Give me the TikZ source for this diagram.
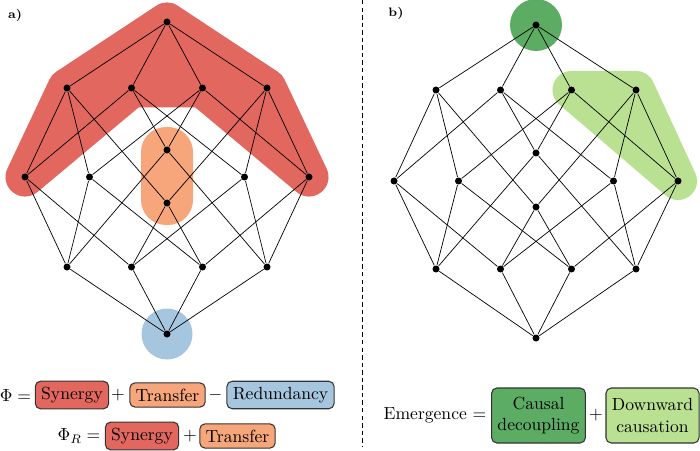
\documentclass[tikz,border=0pt]{standalone}
\usepackage{amsmath}
\usetikzlibrary{calc,backgrounds}
\definecolor{syn_red}{RGB}{226, 103, 94}
\definecolor{trans_orange}{RGB}{246, 166, 122}
\definecolor{red_blue}{RGB}{166, 198, 224}
\definecolor{cd_green}{RGB}{92, 172, 100}
\definecolor{dc_green}{RGB}{186, 225, 146}
\tikzstyle{dot}=[circle,fill=black,draw=none,inner sep=0pt,minimum size=0.14cm]
\tikzstyle{synbox}=[rectangle,rounded corners=3pt,fill=syn_red,draw=black!80,line width=0.6pt]
\tikzstyle{transbox}=[rectangle,rounded corners=3pt,fill=trans_orange,draw=black!80,line width=0.6pt]
\tikzstyle{redbox}=[rectangle,rounded corners=3pt,fill=red_blue,draw=black!80,line width=0.6pt]
\tikzstyle{cdbox}=[rectangle,rounded corners=3pt,fill=cd_green,draw=black!80,line width=0.6pt,
  align=center,minimum height=1.1cm]
\tikzstyle{dcbox}=[rectangle,rounded corners=3pt,fill=dc_green,draw=black!80,line width=0.6pt,
  align=center,minimum height=1.1cm]
\tikzstyle{tag}=[font=\scriptsize\bfseries]
\tikzstyle{none}=[]

\begin{document}
\begin{tikzpicture}[line width=0.6pt]
    \useasboundingbox (0, 0) rectangle (14, 9);
    % left lattice
    \node [style=dot] (0) at (3.34, 8.56) {};
    \node [style=dot] (1) at (1.34, 7.24) {};
    \node [style=dot] (2) at (2.63, 7.24) {};
    \node [style=dot] (3) at (4.05, 7.24) {};
    \node [style=dot] (4) at (5.34, 7.24) {};
    \node [style=dot] (5) at (0.50, 5.46) {};
    \node [style=dot] (6) at (1.79, 5.46) {};
    \node [style=dot] (7) at (3.34, 6.00) {};
    \node [style=dot] (8) at (3.34, 4.94) {};
    \node [style=dot] (9) at (4.89, 5.46) {};
    \node [style=dot] (10) at (6.18, 5.46) {};
    \node [style=dot] (11) at (1.34, 3.66) {};
    \node [style=dot] (12) at (2.63, 3.66) {};
    \node [style=dot] (13) at (4.05, 3.66) {};
    \node [style=dot] (14) at (5.34, 3.66) {};
    \node [style=dot] (15) at (3.34, 2.32) {};
    % right lattice
    \node [style=dot] (16) at (10.72, 8.50) {};
    \node [style=dot] (17) at (8.72, 7.20) {};
    \node [style=dot] (18) at (10.01, 7.20) {};
    \node [style=dot] (19) at (11.43, 7.20) {};
    \node [style=dot] (20) at (12.72, 7.20) {};
    \node [style=dot] (21) at (7.88, 5.38) {};
    \node [style=dot] (22) at (9.17, 5.38) {};
    \node [style=dot] (23) at (10.72, 5.94) {};
    \node [style=dot] (24) at (10.72, 4.86) {};
    \node [style=dot] (25) at (12.27, 5.38) {};
    \node [style=dot] (26) at (13.56, 5.38) {};
    \node [style=dot] (27) at (8.72, 3.62) {};
    \node [style=dot] (28) at (10.01, 3.62) {};
    \node [style=dot] (29) at (11.43, 3.62) {};
    \node [style=dot] (30) at (12.72, 3.62) {};
    \node [style=dot] (31) at (10.72, 2.24) {};

    \begin{pgfonlayer}{background}
        \filldraw [fill=syn_red, draw=syn_red, line width=0.78cm, line join=round] (5.center) -- (1.center) -- (0.center) -- (4.center) -- (10.center) -- (3.center) -- (2.center) -- cycle;
        \fill [trans_orange, rounded corners=0.5cm] ($(7)+(-0.52,0.46)$) rectangle ($(8)+(0.52,-0.44)$);
        \fill [red_blue] (15.center) circle (0.51cm);
        \fill [cd_green] (16.center) circle (0.52cm);
        \filldraw [fill=dc_green, draw=dc_green, line width=0.76cm, line join=round] (19.center) -- (20.center) -- (26.center) -- cycle;
    \end{pgfonlayer}

    \draw (0) to (1);
    \draw (0) to (2);
    \draw (0) to (3);
    \draw (0) to (4);
    \draw (1) to (5);
    \draw (1) to (6);
    \draw (1) to (8);
    \draw (2) to (5);
    \draw (2) to (7);
    \draw (2) to (9);
    \draw (3) to (10);
    \draw (3) to (7);
    \draw (3) to (6);
    \draw (4) to (10);
    \draw (4) to (9);
    \draw (4) to (8);
    \draw (5) to (11);
    \draw (5) to (12);
    \draw (6) to (11);
    \draw (6) to (13);
    \draw (7) to (11);
    \draw (7) to (14);
    \draw (8) to (12);
    \draw (8) to (13);
    \draw (9) to (12);
    \draw (9) to (14);
    \draw (10) to (13);
    \draw (10) to (14);
    \draw (11) to (15);
    \draw (12) to (15);
    \draw (13) to (15);
    \draw (14) to (15);

    \draw (16) to (17);
    \draw (16) to (18);
    \draw (16) to (19);
    \draw (16) to (20);
    \draw (17) to (21);
    \draw (17) to (22);
    \draw (17) to (24);
    \draw (18) to (21);
    \draw (18) to (23);
    \draw (18) to (25);
    \draw (19) to (26);
    \draw (19) to (23);
    \draw (19) to (22);
    \draw (20) to (26);
    \draw (20) to (25);
    \draw (20) to (24);
    \draw (21) to (27);
    \draw (21) to (28);
    \draw (22) to (27);
    \draw (22) to (29);
    \draw (23) to (27);
    \draw (23) to (30);
    \draw (24) to (28);
    \draw (24) to (29);
    \draw (25) to (28);
    \draw (25) to (30);
    \draw (26) to (29);
    \draw (26) to (30);
    \draw (27) to (31);
    \draw (28) to (31);
    \draw (29) to (31);
    \draw (30) to (31);

    % separator and panel tags
    \coordinate (40) at (7.24, 9);
    \coordinate (41) at (7.24, 0.06);
    \draw [dash pattern=on 2.5pt off 1.8pt] (40) to (41);
    \node [style=tag] (42) at (0.30, 8.70) {a)};
    \node [style=tag] (43) at (7.92, 8.74) {b)};

    % equations
    \node [style=none] (50) at (0.31, 1.10) {\(\Phi =\)};
    \node [style=synbox] (51) at (1.44, 1.10) {Synergy};
    \node [style=none] (52) at (2.36, 1.10) {\(+\)};
    \node [style=transbox] (53) at (3.35, 1.10) {Transfer};
    \node [style=none] (54) at (4.31, 1.10) {\(-\)};
    \node [style=redbox] (55) at (5.61, 1.10) {Redundancy};
    \node [style=none] (56) at (1.58, 0.28) {\(\Phi_R =\)};
    \node [style=synbox] (57) at (2.84, 0.28) {Synergy};
    \node [style=none] (58) at (3.80, 0.28) {\(+\)};
    \node [style=transbox] (59) at (4.75, 0.28) {Transfer};
    \node [style=none] (60) at (8.70, 0.69) {Emergence \(=\)};
    \node [style=cdbox] (61) at (10.77, 0.69) {Causal\\decoupling};
    \node [style=none] (62) at (11.92, 0.69) {\(+\)};
    \node [style=dcbox] (63) at (13.05, 0.69) {Downward\\causation};
\end{tikzpicture}
\end{document}
